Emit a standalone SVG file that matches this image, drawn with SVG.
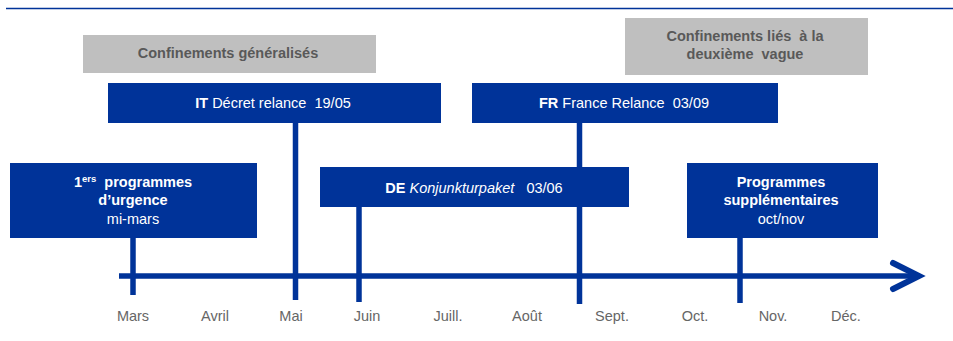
<svg xmlns="http://www.w3.org/2000/svg" width="953" height="341" viewBox="0 0 953 341">
<style>
.blue{fill:#003399}
.gray{fill:#bfbfbf}
.t{font-family:"Liberation Sans",Arial,sans-serif;font-size:14.5px;text-anchor:middle;white-space:pre}
.w{fill:#ffffff}
.g{fill:#595959;font-weight:bold}
.m{fill:#666666}
.b{font-weight:bold}
.stem{stroke:#003399;stroke-width:5.5;fill:none}
</style>
<rect width="953" height="341" fill="#ffffff"/>
<line x1="6" y1="8.5" x2="953" y2="8.5" stroke="#003399" stroke-width="1.6"/>
<g id="connectors">
<line class="stem" x1="119" y1="276" x2="918" y2="276" stroke-width="6"/>
<polyline points="893,263 919,276 893,289" fill="none" stroke="#003399" stroke-width="6" stroke-linecap="round" stroke-linejoin="miter"/>
<line class="stem" x1="133" y1="238" x2="133" y2="295"/>
<line class="stem" x1="295.5" y1="123" x2="295.5" y2="300"/>
<line class="stem" x1="359" y1="207" x2="359" y2="302"/>
<line class="stem" x1="579.5" y1="123" x2="579.5" y2="304"/>
<line class="stem" x1="740" y1="238" x2="740" y2="303"/>
</g>
<g id="lockdown1">
<rect class="gray" x="83" y="35" width="293" height="38"/>
<text class="t g" x="228" y="58">Confinements généralisés</text>
</g>
<g id="lockdown2">
<rect class="gray" x="625" y="18" width="243" height="57"/>
<text class="t g" x="745" y="41">Confinements liés  à la</text>
<text class="t g" x="745" y="59">deuxième  vague</text>
</g>
<g id="it">
<rect class="blue" x="108" y="83" width="333" height="40"/>
<text class="t w" x="273" y="108"><tspan class="b">IT</tspan> Décret relance  19/05</text>
</g>
<g id="fr">
<rect class="blue" x="472" y="83" width="306" height="40"/>
<text class="t w" x="624" y="108"><tspan class="b">FR</tspan> France Relance  03/09</text>
</g>
<g id="first">
<rect class="blue" x="10" y="163" width="247" height="75"/>
<text class="t w b" x="133" y="187">1<tspan font-size="9.5" dy="-5">ers</tspan><tspan dy="5">  programmes</tspan></text>
<text class="t w b" x="133" y="205">d’urgence</text>
<text class="t w" x="133" y="224">mi-mars</text>
</g>
<g id="de">
<rect class="blue" x="320" y="167" width="309" height="40"/>
<text class="t w" x="474" y="193"><tspan class="b">DE</tspan> <tspan font-style="italic">Konjunkturpaket</tspan>   03/06</text>
</g>
<g id="extra">
<rect class="blue" x="687" y="163" width="191" height="75"/>
<text class="t w b" x="781" y="187">Programmes</text>
<text class="t w b" x="781" y="205">supplémentaires</text>
<text class="t w" x="781" y="224">oct/nov</text>
</g>
<g id="months">
<text class="t m" x="133" y="321">Mars</text>
<text class="t m" x="215" y="321">Avril</text>
<text class="t m" x="291" y="321">Mai</text>
<text class="t m" x="367" y="321">Juin</text>
<text class="t m" x="448" y="321">Juill.</text>
<text class="t m" x="527" y="321">Août</text>
<text class="t m" x="612" y="321">Sept.</text>
<text class="t m" x="695" y="321">Oct.</text>
<text class="t m" x="773" y="321">Nov.</text>
<text class="t m" x="846" y="321">Déc.</text>
</g>
</svg>
